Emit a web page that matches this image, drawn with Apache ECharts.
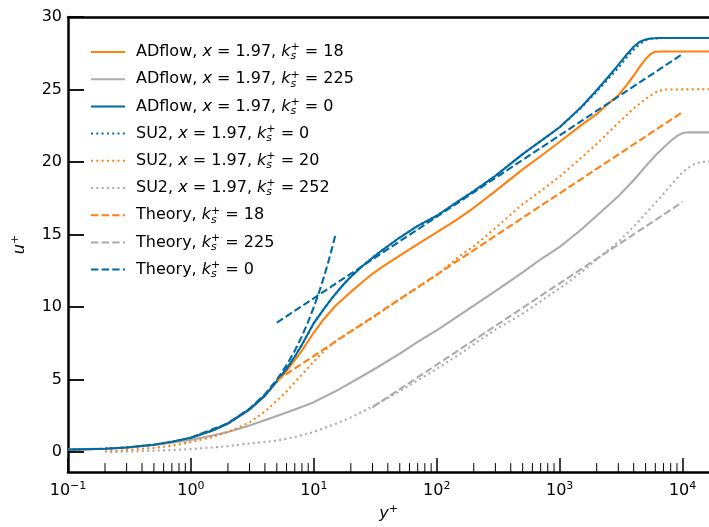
<!DOCTYPE html>
<html>
<head>
<meta charset="utf-8">
<script src="https://cdn.jsdelivr.net/npm/echarts@6/dist/echarts.min.js"></script>
<style>
html, body { margin: 0; padding: 0; background: #fff; }
#chart { width: 709px; height: 527px; }
</style>
</head>
<body>
<div id="chart"></div>
<script>
// y+ / u+ pairs
var adflowK18 = [[0.1, 0.18], [0.2, 0.24], [0.3, 0.33], [0.5, 0.52], [0.7, 0.72], [1, 1.0], [1.5, 1.5], [2, 1.98], [3, 2.95], [4, 3.9], [5, 4.85], [6, 5.6], [7, 6.35], [8, 7.0], [10, 8.25], [12, 9.15], [15, 10.1], [20, 11.05], [25, 11.75], [30, 12.3], [35, 12.7], [50, 13.55], [70, 14.35], [100, 15.15], [150, 16.1], [200, 16.85], [300, 18.0], [500, 19.5], [700, 20.4], [1000, 21.4], [1500, 22.55], [2000, 23.3], [2500, 24.05], [3000, 24.6], [3500, 25.3], [4000, 25.95], [4500, 26.6], [5000, 27.1], [5500, 27.45], [6000, 27.6], [7000, 27.62], [16400, 27.62]];
var adflowK225 = [[0.1, 0.18], [0.2, 0.25], [0.3, 0.33], [0.5, 0.5], [0.7, 0.65], [1, 0.85], [1.5, 1.15], [2, 1.4], [3, 1.85], [5, 2.5], [7, 2.95], [10, 3.45], [15, 4.2], [20, 4.8], [30, 5.65], [50, 6.8], [70, 7.6], [100, 8.4], [150, 9.4], [200, 10.1], [300, 11.1], [500, 12.4], [700, 13.3], [1000, 14.15], [1500, 15.35], [2000, 16.3], [3000, 17.65], [4000, 18.75], [5000, 19.7], [6000, 20.45], [7000, 21.0], [8000, 21.45], [9000, 21.8], [10000, 22.0], [11000, 22.05], [16400, 22.05]];
var adflowK0 = [[0.1, 0.18], [0.2, 0.24], [0.3, 0.33], [0.5, 0.52], [0.7, 0.72], [1, 1.0], [1.5, 1.5], [2, 1.98], [3, 2.95], [4, 3.9], [5, 4.9], [6, 5.75], [7, 6.6], [8, 7.4], [10, 8.9], [12, 9.85], [14, 10.6], [16, 11.2], [18, 11.7], [20, 12.1], [25, 12.85], [30, 13.4], [35, 13.85], [50, 14.8], [70, 15.6], [100, 16.3], [150, 17.3], [200, 18.0], [300, 19.05], [500, 20.55], [700, 21.45], [1000, 22.4], [1500, 23.8], [2000, 24.95], [2500, 25.9], [3000, 26.7], [3500, 27.4], [4000, 27.95], [4500, 28.3], [5000, 28.45], [5500, 28.52], [6500, 28.55], [16400, 28.55]];
var su2K0 = [[0.1, 0.18], [0.2, 0.24], [0.3, 0.33], [0.5, 0.52], [0.7, 0.72], [1, 1.0], [1.5, 1.5], [2, 1.98], [3, 2.95], [4, 3.9], [5, 4.9], [6, 5.75], [7, 6.6], [8, 7.4], [10, 8.9], [12, 9.85], [14, 10.6], [16, 11.2], [18, 11.7], [20, 12.1], [25, 12.85], [30, 13.4], [35, 13.85], [50, 14.8], [70, 15.6], [100, 16.3], [150, 17.3], [200, 18.0], [300, 19.05], [500, 20.55], [700, 21.45], [1000, 22.4], [1500, 23.75], [2000, 24.85], [2500, 25.75], [3000, 26.5], [3500, 27.2], [4000, 27.75], [4500, 28.15], [5000, 28.4], [5500, 28.5], [6500, 28.55], [16400, 28.55]];
var su2K20 = [[0.2, 0.05], [0.3, 0.15], [0.5, 0.3], [0.7, 0.45], [1, 0.7], [1.5, 1.05], [2, 1.4], [3, 2.05], [4, 2.8], [5, 3.55], [6, 4.2], [8, 5.35], [10, 6.25], [12, 6.95], [15, 7.65], [20, 8.35], [30, 9.25], [50, 10.55], [70, 11.35], [100, 12.2], [150, 13.45], [200, 14.2], [300, 15.45], [500, 17.1], [700, 18.0], [1000, 19.0], [1500, 20.3], [2000, 21.25], [3000, 22.7], [4000, 23.7], [5000, 24.35], [6000, 24.8], [7000, 25.0], [16400, 25.02]];
var su2K252 = [[0.22, 0.0], [0.3, 0.05], [0.5, 0.1], [0.7, 0.15], [1, 0.22], [1.5, 0.33], [2, 0.42], [3, 0.6], [5, 0.8], [7, 1.05], [10, 1.4], [15, 1.95], [20, 2.4], [30, 3.15], [50, 4.2], [70, 4.95], [100, 5.75], [150, 6.7], [200, 7.45], [300, 8.45], [500, 9.55], [700, 10.4], [1000, 11.3], [1500, 12.4], [2000, 13.3], [3000, 14.5], [4000, 15.55], [5000, 16.45], [6500, 17.5], [8000, 18.4], [10000, 19.3], [12000, 19.8], [14000, 20.0], [16400, 20.05]];
var theoryK18 = [[5, 4.95], [10000, 23.45]];
var theoryK225 = [[30, 3.1], [10000, 17.25]];
var theoryK0Log = [[5, 8.93], [10000, 27.45]];
var theoryK0Visc = [[1, 1], [2, 2], [3, 3], [4, 4], [5, 5], [6, 6], [7, 7], [8, 8], [9, 9], [10, 10], [11, 11], [12, 12], [13, 13], [14, 14], [15, 15]];

var minorTicks = [0.2, 0.3, 0.4, 0.5, 0.6, 0.7, 0.8, 0.9, 2, 3, 4, 5, 6, 7, 8, 9, 20, 30, 40, 50, 60, 70, 80, 90, 200, 300, 400, 500, 600, 700, 800, 900, 2000, 3000, 4000, 5000, 6000, 7000, 8000, 9000];

var xMin = 0.1, xMax = 16400, yMin = -1.37, yMax = 30;

var names = ['ADflow 18', 'ADflow 225', 'ADflow 0', 'SU2 0', 'SU2 20', 'SU2 252', 'Theory 18', 'Theory 225', 'Theory 0'];
var legendText = {
    'ADflow 18': 'ADflow, {i|x} = 1.97, {i|k}{sb|s}{sp|+} = 18',
    'ADflow 225': 'ADflow, {i|x} = 1.97, {i|k}{sb|s}{sp|+} = 225',
    'ADflow 0': 'ADflow, {i|x} = 1.97, {i|k}{sb|s}{sp|+} = 0',
    'SU2 0': 'SU2, {i|x} = 1.97, {i|k}{sb|s}{sp|+} = 0',
    'SU2 20': 'SU2, {i|x} = 1.97, {i|k}{sb|s}{sp|+} = 20',
    'SU2 252': 'SU2, {i|x} = 1.97, {i|k}{sb|s}{sp|+} = 252',
    'Theory 18': 'Theory, {i|k}{sb|s}{sp|+} = 18',
    'Theory 225': 'Theory, {i|k}{sb|s}{sp|+} = 225',
    'Theory 0': 'Theory, {i|k}{sb|s}{sp|+} = 0'
};

var BLUE = '#006BA4', ORANGE = '#FF800E', GREY = '#ABABAB';
var SOLID = 'solid', DOT = [2, 3.3], DASH = [7.4, 3.2];

var mathRich = {
    i: { fontStyle: 'italic', fontSize: 16, lineHeight: 20 },
    sb: { fontStyle: 'italic', fontSize: 11, lineHeight: 12, verticalAlign: 'bottom', width: 0 },
    sp: { fontSize: 11, lineHeight: 11, verticalAlign: 'top' },
    b: { fontSize: 16, lineHeight: 20 },
    s: { fontSize: 11, lineHeight: 11, verticalAlign: 'top' }
};

function curve(name, data, color, type) {
    return {
        name: name,
        type: 'line',
        data: data,
        showSymbol: false,
        symbol: 'none',
        smooth: false,
        lineStyle: { color: color, width: 2.1, type: type, cap: 'butt', join: 'round' },
        itemStyle: { color: color },
        z: 2
    };
}

var dom = document.getElementById('chart');
var myChart = echarts.init(dom, null, { renderer: 'canvas' });

var option = {
    animation: false,
    backgroundColor: '#fff',
    textStyle: { fontFamily: 'DejaVu Sans', color: '#000' },
    grid: { left: 68, top: 17, width: 641, height: 460, containLabel: false },
    legend: {
        data: names,
        orient: 'vertical',
        left: 85,
        top: 37,
        itemWidth: 34,
        itemHeight: 14,
        itemGap: 7.2,
        selectedMode: false,
        itemStyle: { opacity: 0 },
        formatter: function (name) { return legendText[name]; },
        textStyle: {
            fontFamily: 'DejaVu Sans', fontSize: 16, color: '#000', lineHeight: 20,
            padding: [0, 0, 0, 6], rich: mathRich
        }
    },
    xAxis: [{
        type: 'log',
        logBase: 10,
        min: xMin,
        max: xMax,
        name: '{i|y}{sp|+}',
        nameLocation: 'middle',
        nameGap: 31,
        nameTextStyle: { fontSize: 16, color: '#000', rich: mathRich },
        axisLine: { onZero: false, lineStyle: { color: '#000', width: 2.5 } },
        axisTick: { inside: true, length: 14, lineStyle: { color: '#000', width: 1.5 } },
        axisLabel: {
            margin: 9, color: '#000', fontSize: 16, showMaxLabel: false,
            formatter: function (v) {
                var e = Math.round(Math.log10(v));
                return '{b|10}{s|' + (e < 0 ? '\u2212' + (-e) : e) + '}';
            },
            rich: mathRich
        },
        splitLine: { show: false },
        minorTick: { show: false }
    }, {
        type: 'log',
        logBase: 10,
        min: xMin,
        max: xMax,
        position: 'top',
        axisLine: { onZero: false, lineStyle: { color: '#000', width: 2.5 } },
        axisTick: { show: false },
        axisLabel: { show: false },
        splitLine: { show: false }
    }],
    yAxis: {
        type: 'value',
        min: yMin,
        max: yMax,
        splitNumber: 6,
        name: '{i|u}{sp|+}',
        nameLocation: 'middle',
        nameGap: 38,
        nameRotate: 90,
        nameTextStyle: { fontSize: 16, color: '#000', rich: mathRich },
        axisLine: { onZero: false, lineStyle: { color: '#000', width: 2.5 } },
        axisTick: { inside: true, length: 16, lineStyle: { color: '#000', width: 1.8 } },
        axisLabel: { margin: 6, color: '#000', fontSize: 16, showMinLabel: false },
        splitLine: { show: false }
    },
    series: [
        curve('ADflow 18', adflowK18, ORANGE, SOLID),
        curve('ADflow 225', adflowK225, GREY, SOLID),
        curve('ADflow 0', adflowK0, BLUE, SOLID),
        curve('SU2 0', su2K0, BLUE, DOT),
        curve('SU2 20', su2K20, ORANGE, DOT),
        curve('SU2 252', su2K252, GREY, DOT),
        curve('Theory 18', theoryK18, ORANGE, DASH),
        curve('Theory 225', theoryK225, GREY, DASH),
        curve('Theory 0', theoryK0Log, BLUE, DASH),
        curve('Theory 0', theoryK0Visc, BLUE, DASH),
        {
            type: 'custom',
            silent: true,
            data: minorTicks.map(function (v) { return [v, yMin]; }),
            renderItem: function (params, api) {
                var p = api.coord([api.value(0), api.value(1)]);
                return {
                    type: 'line',
                    shape: { x1: p[0], y1: p[1], x2: p[0], y2: p[1] - 9 },
                    style: { stroke: '#000', lineWidth: 1 }
                };
            },
            z: 5
        }
    ]
};

myChart.setOption(option);
window.addEventListener('resize', myChart.resize);
</script>
</body>
</html>
